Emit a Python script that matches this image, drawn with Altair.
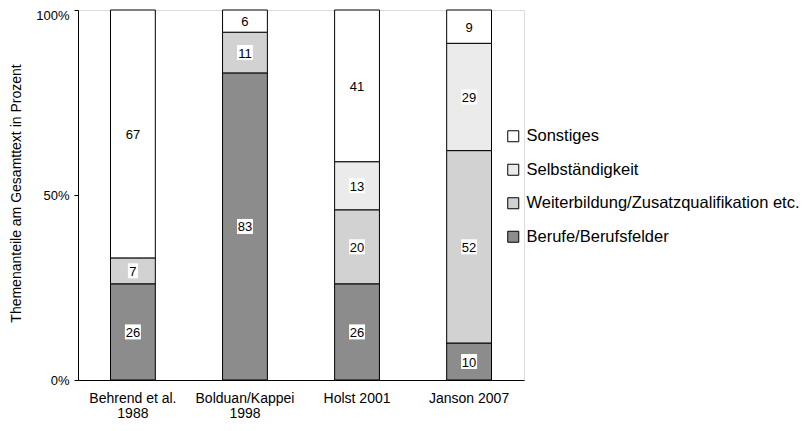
import altair as alt
import pandas as pd

studies = ["Behrend et al.|1988", "Bolduan/Kappei|1998", "Holst 2001", "Janson 2007"]
themes = ["Berufe/Berufsfelder", "Weiterbildung/Zusatzqualifikation etc.", "Selbständigkeit", "Sonstiges"]
berufe = [26, 83, 26, 10]
weiterbildung = [7, 11, 20, 52]
selbst = [0, 0, 13, 29]
sonstiges = [67, 6, 41, 9]
fills = ["#8c8c8c", "#d2d2d2", "#ebebeb", "#ffffff"]

rows = []
for i, s in enumerate(studies):
    for k, (t, vals) in enumerate(zip(themes, [berufe, weiterbildung, selbst, sonstiges])):
        rows.append({"study": s, "theme": t, "value": vals[i], "ord": k})
df = pd.DataFrame(rows)

FONT = "Liberation Sans"

base = alt.Chart(df)

xenc = alt.X("study:N", sort=studies, title=None,
             scale=alt.Scale(paddingInner=0.6, paddingOuter=0.29),
             axis=alt.Axis(labelExpr="split(datum.label, '|')", labelFontSize=14, labelFont=FONT,
                           labelColor="black", ticks=False, tickSize=0, labelPadding=11,
                           labelLineHeight=15.5, domainColor="black", labelAngle=0, labelLimit=0))

bars = base.mark_bar(stroke="black", strokeWidth=1).encode(
    x=xenc,
    y=alt.Y("value:Q", stack="zero", scale=alt.Scale(domain=[0, 100]),
            title="Themenanteile am Gesamttext in Prozent",
            axis=alt.Axis(values=[0, 50, 100], labelExpr="datum.value + '%'", grid=False,
                          labelFontSize=13, labelFont=FONT, labelColor="black",
                          labelOffset={"condition": {"test": "datum.value == 100", "value": 5}, "value": 0},
                          tickSize=4, tickColor="black", domainColor="black", labelPadding=5,
                          titleFontSize=14, titleFont=FONT, titleFontWeight="normal",
                          titleColor="black", titleX=-62, titleY=183, titleAngle=270,
                          titleBaseline="middle", titleAlign="center")),
    color=alt.Color("theme:N", scale=alt.Scale(domain=themes[::-1], range=fills[::-1]),
                    legend=alt.Legend(title=None, orient="none", legendX=427, legendY=118,
                                      symbolType="square", symbolSize=121, symbolStrokeColor="black",
                                      symbolStrokeWidth=1, labelFontSize=16.5, labelFont=FONT,
                                      labelColor="black", rowPadding=16.5, labelOffset=5,
                                      labelLimit=0, symbolOpacity=1)),
    order=alt.Order("ord:Q"),
).transform_filter("datum.value > 0")

lab = base.transform_filter("datum.value > 0").transform_stack(
    stack="value", as_=["y0", "y1"], groupby=["study"], sort=[alt.SortField("ord")]
).transform_calculate(mid="(datum.y0 + datum.y1) / 2")

box2 = lab.transform_filter("datum.value >= 10").mark_point(
    shape="M-1,-0.94L1,-0.94L1,0.94L-1,0.94Z", filled=True, fill="white", opacity=1, size=256, strokeWidth=0
).encode(x=alt.X("study:N", sort=studies), y=alt.Y("mid:Q"))

box1 = lab.transform_filter("datum.value < 10").mark_point(
    shape="M-1,-1.5L1,-1.5L1,1.5L-1,1.5Z", filled=True, fill="white", opacity=1, size=100, strokeWidth=0
).encode(x=alt.X("study:N", sort=studies), y=alt.Y("mid:Q"))

text = lab.mark_text(fontSize=13, font=FONT, color="black", baseline="middle", dy=1).encode(
    x=alt.X("study:N", sort=studies), y=alt.Y("mid:Q"), text="value:Q")

chart = alt.layer(bars, box2, box1, text).properties(
    width=446, height=370,
    autosize=alt.AutoSizeParams(type="none"),
    padding={"left": 70, "top": 2, "right": 277, "bottom": 43},
).configure_view(stroke=None).configure(font=FONT, background="white")

chart.save("out.html", embed_options={"renderer": "svg", "actions": False})
